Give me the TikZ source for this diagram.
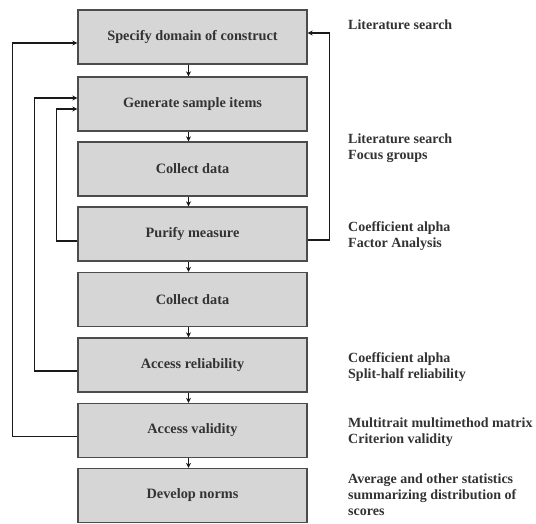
\documentclass[tikz,border=0pt]{standalone}
\usepackage{fontspec}
\setmainfont{Liberation Serif}
\usetikzlibrary{arrows.meta,calc}
\begin{document}
\begin{tikzpicture}[x=1pt,y=-1pt,
  stepbox/.style={draw=black!70, line width=1.3pt, fill=black!16, minimum width=229pt, minimum height=54pt, inner sep=0pt, font=\fontsize{14.3}{16}\selectfont\bfseries, text=black!80},
  note/.style={anchor=north west, align=left, font=\fontsize{14}{15.8}\selectfont\bfseries, text=black!80, inner sep=0pt},
  flow/.style={line width=1.3pt, draw=black!90, -{Stealth[length=5pt,width=5pt]}},
  ]
\useasboundingbox[fill=white] (0,0) rectangle (536,523);
\node[stepbox] (b1) at (192.5,37) {Specify domain of construct};
\node[stepbox] (b2) at (192.5,104) {Generate sample items};
\node[stepbox] (b3) at (192.5,169) {Collect data};
\node[stepbox] (b4) at (192.5,234) {Purify measure};
\node[stepbox] (b5) at (192.5,299.5) {Collect data};
\node[stepbox] (b6) at (192.5,365) {Access reliability};
\node[stepbox] (b7) at (192.5,430.5) {Access validity};
\node[stepbox] (b8) at (192.5,495.5) {Develop norms};

\foreach \a/\b in {b1/b2,b2/b3,b3/b4,b4/b5,b5/b6,b6/b7,b7/b8}
  \draw[flow] ($(\a.south)+(-4,0)$) -- ($(\b.north)+(-4,0)$);

\draw[flow] ($(b7.west)+(0,6)$) -- ++(-65,0) |- ($(b1.west)+(0,6)$);
\draw[flow] ($(b6.west)+(0,6)$) -- ++(-43,0) |- ($(b2.west)+(0,-6)$);
\draw[flow] ($(b4.west)+(0,7)$) -- ++(-21,0) |- ($(b2.west)+(0,5)$);
\draw[flow] ($(b4.east)+(0,6)$) -- ++(22,0) |- ($(b1.east)+(0,-4)$);

\node[note] (n1) at (348,19.5) {Literature search};
\node[note] (n2) at (348,133.5) {Literature search\\Focus groups};
\node[note] (n3) at (348,221.5) {Coefficient alpha\\Factor Analysis};
\node[note] (n4) at (348,352.5) {Coefficient alpha\\Split-half reliability};
\node[note] (n5) at (348,417.5) {Multitrait multimethod matrix\\Criterion validity};
\node[note] (n6) at (348,473.5) {Average and other statistics\\summarizing distribution of\\scores};
\end{tikzpicture}
\end{document}
